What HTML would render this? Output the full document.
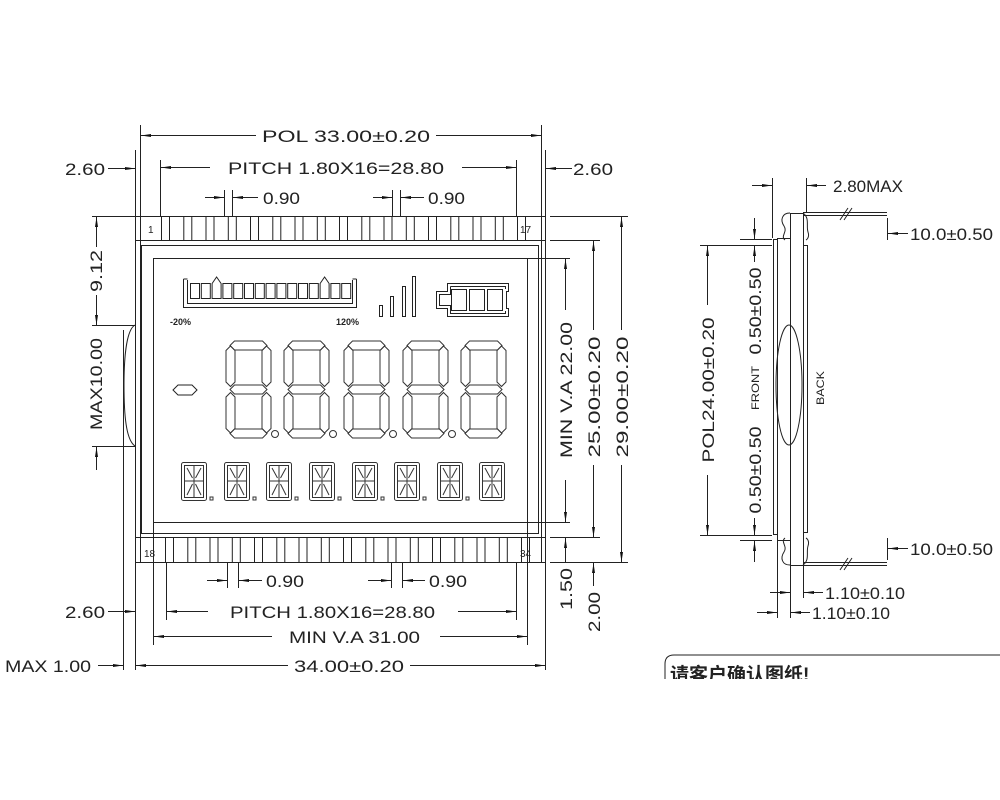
<!DOCTYPE html>
<html><head><meta charset="utf-8"><style>
html,body{margin:0;padding:0;background:#fff;}
svg{display:block}
text{font-family:"Liberation Sans",sans-serif;fill:#222;}
</style></head><body>
<svg id="s" width="1000" height="800" viewBox="0 0 1000 800" xmlns="http://www.w3.org/2000/svg">
<defs>
<marker id="a" viewBox="0 0 10 4" refX="10" refY="2" markerWidth="10" markerHeight="4" markerUnits="userSpaceOnUse" orient="auto-start-reverse"><path d="M0,0.5 L10,2 L0,3.5z" fill="#111"/></marker>
</defs>
<g id="g" fill="none" stroke="#222" stroke-width="1">
<rect x="135.5" y="216.5" width="410" height="346"/>
<line x1="140.5" y1="125" x2="140.5" y2="562"/>
<line x1="541.5" y1="125" x2="541.5" y2="562"/>
<line x1="135" y1="240.5" x2="546" y2="240.5"/>
<line x1="135" y1="537.5" x2="546" y2="537.5"/>
<rect x="141.5" y="245.5" width="397" height="288"/>
<rect x="153.5" y="258.5" width="374" height="264"/>
<line x1="527" y1="258.5" x2="570" y2="258.5"/>
<line x1="527" y1="522.5" x2="570" y2="522.5"/>
<line x1="135.5" y1="150" x2="135.5" y2="216"/>
<line x1="123.5" y1="330" x2="123.5" y2="670"/>
<line x1="135.5" y1="562" x2="135.5" y2="670"/>
<line x1="545.5" y1="150" x2="545.5" y2="216"/>
<line x1="545.5" y1="562" x2="545.5" y2="670"/>
<line x1="92" y1="216.5" x2="135" y2="216.5"/>
<line x1="92" y1="325.5" x2="135" y2="325.5"/>
<line x1="92" y1="446.5" x2="135" y2="446.5"/>
<path d="M135,325 C126,330 124,360 124,385 C124,415 126,440 135,446"/>
<line x1="550" y1="216.5" x2="628" y2="216.5"/>
<line x1="550" y1="240.5" x2="600" y2="240.5"/>
<line x1="550" y1="537.5" x2="600" y2="537.5"/>
<line x1="550" y1="562.5" x2="628" y2="562.5"/>
<line x1="160.5" y1="160" x2="160.5" y2="216"/>
<line x1="516.5" y1="160" x2="516.5" y2="216"/>
<line x1="224.5" y1="190" x2="224.5" y2="216"/>
<line x1="232.5" y1="190" x2="232.5" y2="216"/>
<line x1="392.5" y1="190" x2="392.5" y2="216"/>
<line x1="400.5" y1="190" x2="400.5" y2="216"/>
<line x1="166.5" y1="562" x2="166.5" y2="620"/>
<line x1="516.5" y1="562" x2="516.5" y2="620"/>
<line x1="153.5" y1="522" x2="153.5" y2="645"/>
<line x1="527.5" y1="522" x2="527.5" y2="645"/>
<line x1="227.5" y1="562" x2="227.5" y2="588"/>
<line x1="238.5" y1="562" x2="238.5" y2="588"/>
<line x1="391.5" y1="562" x2="391.5" y2="588"/>
<line x1="402.5" y1="562" x2="402.5" y2="588"/>
</g>
<g fill="none" stroke="#222" stroke-width="1">
<line x1="141" y1="135.5" x2="256" y2="135.5" marker-start="url(#a)"/>
<line x1="436" y1="135.5" x2="541" y2="135.5" marker-end="url(#a)"/>
<line x1="161" y1="167.5" x2="210" y2="167.5" marker-start="url(#a)"/>
<line x1="462" y1="167.5" x2="516" y2="167.5" marker-end="url(#a)"/>
<line x1="205" y1="197.5" x2="224" y2="197.5" marker-end="url(#a)"/>
<line x1="258" y1="197.5" x2="233" y2="197.5" marker-end="url(#a)"/>
<line x1="373" y1="197.5" x2="392" y2="197.5" marker-end="url(#a)"/>
<line x1="424" y1="197.5" x2="401" y2="197.5" marker-end="url(#a)"/>
<line x1="108" y1="168.5" x2="135" y2="168.5" marker-end="url(#a)"/>
<line x1="572" y1="168.5" x2="546" y2="168.5" marker-end="url(#a)"/>
<line x1="96.5" y1="217" x2="96.5" y2="247" marker-start="url(#a)"/>
<line x1="96.5" y1="295" x2="96.5" y2="325" marker-end="url(#a)"/>
<line x1="96.5" y1="470" x2="96.5" y2="447" marker-end="url(#a)"/>
<line x1="565.5" y1="259" x2="565.5" y2="310" marker-start="url(#a)"/>
<line x1="565.5" y1="480" x2="565.5" y2="522" marker-end="url(#a)"/>
<line x1="593.5" y1="241" x2="593.5" y2="330" marker-start="url(#a)"/>
<line x1="593.5" y1="465" x2="593.5" y2="537" marker-end="url(#a)"/>
<line x1="621.5" y1="217" x2="621.5" y2="330" marker-start="url(#a)"/>
<line x1="621.5" y1="465" x2="621.5" y2="562" marker-end="url(#a)"/>
<line x1="565.5" y1="538" x2="565.5" y2="562" marker-start="url(#a)"/>
<line x1="593.5" y1="563" x2="593.5" y2="586" marker-start="url(#a)"/>
<line x1="207" y1="580.5" x2="227" y2="580.5" marker-end="url(#a)"/>
<line x1="262" y1="580.5" x2="239" y2="580.5" marker-end="url(#a)"/>
<line x1="368" y1="580.5" x2="391" y2="580.5" marker-end="url(#a)"/>
<line x1="425" y1="580.5" x2="403" y2="580.5" marker-end="url(#a)"/>
<line x1="167" y1="611.5" x2="208" y2="611.5" marker-start="url(#a)"/>
<line x1="458" y1="611.5" x2="516" y2="611.5" marker-end="url(#a)"/>
<line x1="108" y1="611.5" x2="135" y2="611.5" marker-end="url(#a)"/>
<line x1="154" y1="636.5" x2="272" y2="636.5" marker-start="url(#a)"/>
<line x1="440" y1="636.5" x2="527" y2="636.5" marker-end="url(#a)"/>
<line x1="136" y1="665.5" x2="288" y2="665.5" marker-start="url(#a)"/>
<line x1="410" y1="665.5" x2="545" y2="665.5" marker-end="url(#a)"/>
<line x1="98" y1="665.5" x2="123" y2="665.5" marker-end="url(#a)"/>
</g>
<g font-size="17">
<text x="262" y="142" textLength="168" lengthAdjust="spacingAndGlyphs">POL 33.00±0.20</text>
<text x="228" y="174" textLength="216" lengthAdjust="spacingAndGlyphs">PITCH  1.80X16=28.80</text>
<text x="263" y="204" textLength="37" lengthAdjust="spacingAndGlyphs">0.90</text>
<text x="428" y="204" textLength="37" lengthAdjust="spacingAndGlyphs">0.90</text>
<text x="65" y="175" textLength="40" lengthAdjust="spacingAndGlyphs">2.60</text>
<text x="573" y="175" textLength="40" lengthAdjust="spacingAndGlyphs">2.60</text>
<text x="266" y="587" textLength="38" lengthAdjust="spacingAndGlyphs">0.90</text>
<text x="429" y="587" textLength="38" lengthAdjust="spacingAndGlyphs">0.90</text>
<text x="230" y="618" textLength="205" lengthAdjust="spacingAndGlyphs">PITCH  1.80X16=28.80</text>
<text x="65" y="618" textLength="40" lengthAdjust="spacingAndGlyphs">2.60</text>
<text x="289" y="643" textLength="131" lengthAdjust="spacingAndGlyphs">MIN V.A 31.00</text>
<text x="294" y="672" textLength="110" lengthAdjust="spacingAndGlyphs">34.00±0.20</text>
<text x="5" y="672" textLength="86" lengthAdjust="spacingAndGlyphs">MAX 1.00</text>
<text transform="translate(102,271) rotate(-90)" text-anchor="middle" textLength="42" lengthAdjust="spacingAndGlyphs">9.12</text>
<text transform="translate(102,384) rotate(-90)" text-anchor="middle" textLength="92" lengthAdjust="spacingAndGlyphs">MAX10.00</text>
<text transform="translate(572,390) rotate(-90)" text-anchor="middle" textLength="136" lengthAdjust="spacingAndGlyphs">MIN V.A 22.00</text>
<text transform="translate(600,397) rotate(-90)" text-anchor="middle" textLength="121" lengthAdjust="spacingAndGlyphs">25.00±0.20</text>
<text transform="translate(628,397) rotate(-90)" text-anchor="middle" textLength="121" lengthAdjust="spacingAndGlyphs">29.00±0.20</text>
<text transform="translate(572,589) rotate(-90)" text-anchor="middle" textLength="42" lengthAdjust="spacingAndGlyphs">1.50</text>
<text transform="translate(600,612) rotate(-90)" text-anchor="middle" textLength="40" lengthAdjust="spacingAndGlyphs">2.00</text>
</g>
<g font-size="10">
<text x="148" y="233">1</text>
<text x="520" y="233">17</text>
<text x="144" y="557">18</text>
<text x="520" y="557">34</text>
</g>
<g font-size="9" font-weight="bold">
<text x="170" y="325">-20%</text>
<text x="336" y="325">120%</text>
</g>
<g fill="none" stroke="#222" stroke-width="1">
<path d="M183.5,279 V307.5 H356.5 V279 M187.5,280 V303.5 H352.5 V280 M183.5,279 H187.5 M352.5,279 H356.5"/>
<g id="bars"></g>
<rect x="379.5" y="305.5" width="3" height="11"/>
<rect x="390.5" y="296.5" width="3" height="20"/>
<rect x="402.5" y="286.5" width="3" height="30"/>
<rect x="412.5" y="276.5" width="3" height="40"/>
<path d="M447.5,283.5 H508.5 V291.5 H506.5 V308.5 H508.5 V316.5 H447.5 V308.5 H436.5 V291.5 H447.5Z"/>
<path d="M450.5,286.5 H505.5 V289 M450.5,286.5 V294.5 H439.5 V305.5 H450.5 V313.5 H505.5 V311"/>
<rect x="451.5" y="289.5" width="15" height="21"/>
<rect x="469.5" y="289.5" width="15" height="21"/>
<rect x="487.5" y="289.5" width="15" height="21"/>
<path d="M173,390 L178,385 H192 L197,390 L192,395 H178Z"/>
</g>
<g id="pins" fill="none" stroke="#222" stroke-width="1"></g>
<g id="digs" fill="none" stroke="#333" stroke-width="1"></g>
<g fill="none" stroke="#222" stroke-width="1">
<rect x="773.5" y="239.5" width="4" height="295"/>
<rect x="777.5" y="238.5" width="13" height="302"/>
<rect x="790.5" y="213.5" width="13" height="352"/>
<rect x="803.5" y="245.5" width="4" height="287"/>
<ellipse cx="789" cy="385" rx="13" ry="60"/>
<path d="M790,213 C782,213 780,220 784,226 C788,232 780,236 785,240"/>
<path d="M803,213 C810,218 806,226 808,232 C810,238 806,240 806,240"/>
<path d="M790,565 C782,565 780,558 784,552 C788,546 780,542 785,538"/>
<path d="M803,565 C810,560 806,552 808,546 C810,540 806,538 806,538"/>
<line x1="803" y1="212.5" x2="887" y2="212.5"/><line x1="803" y1="215.5" x2="887" y2="215.5"/>
<line x1="803" y1="562.5" x2="887" y2="562.5"/><line x1="803" y1="565.5" x2="887" y2="565.5"/>
<path d="M840,220 L848,208 M844,220 L852,208 M840,570 L848,558 M844,570 L852,558"/>
<line x1="887.5" y1="218" x2="887.5" y2="240"/>
<line x1="887.5" y1="538" x2="887.5" y2="560"/>
<line x1="772.5" y1="178" x2="772.5" y2="238"/>
<line x1="806.5" y1="178" x2="806.5" y2="213"/>
<line x1="700" y1="245.5" x2="772" y2="245.5"/>
<line x1="700" y1="535.5" x2="772" y2="535.5"/>
<line x1="740" y1="239.5" x2="772" y2="239.5"/>
<line x1="740" y1="540.5" x2="772" y2="540.5"/>
<line x1="777.5" y1="540" x2="777.5" y2="618"/>
<line x1="790.5" y1="565" x2="790.5" y2="618"/>
<line x1="803.5" y1="565" x2="803.5" y2="598"/>
</g>
<g fill="none" stroke="#222" stroke-width="1">
<line x1="752" y1="185.5" x2="772" y2="185.5" marker-end="url(#a)"/>
<line x1="826" y1="185.5" x2="807" y2="185.5" marker-end="url(#a)"/>
<line x1="908" y1="233.5" x2="888" y2="233.5" marker-end="url(#a)"/>
<line x1="908" y1="548.5" x2="888" y2="548.5" marker-end="url(#a)"/>
<line x1="707.5" y1="246" x2="707.5" y2="305" marker-start="url(#a)"/>
<line x1="707.5" y1="475" x2="707.5" y2="535" marker-end="url(#a)"/>
<line x1="754.5" y1="218" x2="754.5" y2="239" marker-end="url(#a)"/>
<line x1="754.5" y1="246" x2="754.5" y2="262" marker-start="url(#a)"/>
<line x1="754.5" y1="518" x2="754.5" y2="535" marker-end="url(#a)"/>
<line x1="754.5" y1="562" x2="754.5" y2="541" marker-end="url(#a)"/>
<line x1="770" y1="592.5" x2="790" y2="592.5" marker-end="url(#a)"/>
<line x1="823" y1="592.5" x2="804" y2="592.5" marker-end="url(#a)"/>
<line x1="757" y1="612.5" x2="777" y2="612.5" marker-end="url(#a)"/>
<line x1="810" y1="612.5" x2="791" y2="612.5" marker-end="url(#a)"/>
<path d="M665,679 V664 Q665,655 674,655 H1000"/>
</g>
<g font-size="17">
<text x="833" y="192" textLength="70" lengthAdjust="spacingAndGlyphs">2.80MAX</text>
<text x="910" y="240" textLength="83" lengthAdjust="spacingAndGlyphs">10.0±0.50</text>
<text x="910" y="555" textLength="83" lengthAdjust="spacingAndGlyphs">10.0±0.50</text>
<text x="825" y="599" textLength="80" lengthAdjust="spacingAndGlyphs">1.10±0.10</text>
<text x="812" y="619" textLength="78" lengthAdjust="spacingAndGlyphs">1.10±0.10</text>
<text transform="translate(714,390) rotate(-90)" text-anchor="middle" textLength="145" lengthAdjust="spacingAndGlyphs">POL24.00±0.20</text>
<text transform="translate(761,311) rotate(-90)" text-anchor="middle" textLength="87" lengthAdjust="spacingAndGlyphs">0.50±0.50</text>
<text transform="translate(761,470) rotate(-90)" text-anchor="middle" textLength="87" lengthAdjust="spacingAndGlyphs">0.50±0.50</text>
</g>
<g font-size="11">
<text transform="translate(759,388) rotate(-90)" text-anchor="middle" textLength="44" lengthAdjust="spacingAndGlyphs">FRONT</text>
<text transform="translate(824,388) rotate(-90)" text-anchor="middle" textLength="34" lengthAdjust="spacingAndGlyphs">BACK</text>
</g>
<svg x="660" y="655" width="340" height="24" overflow="hidden">
<text x="10" y="26" font-size="19" font-weight="bold" style="font-family:'Liberation Sans','Noto Sans CJK SC',sans-serif">请客户确认图纸!</text>
</svg>
</svg>
<script>
var NS="http://www.w3.org/2000/svg";
function el(p,t,a){var e=document.createElementNS(NS,t);for(var k in a)e.setAttribute(k,a[k]);p.appendChild(e);return e;}
var pins=document.getElementById("pins");
for(var i=0;i<17;i++){var x=161.5+i*22.25;
el(pins,"rect",{x:x.toFixed(1),y:216.5,width:8,height:24});
el(pins,"rect",{x:(x+4).toFixed(1),y:537.5,width:8,height:25});}
var bars=document.getElementById("bars");
for(var i=0;i<15;i++){var x=190.5+i*10.8;
if(i==2||i==12){el(bars,"path",{d:"M"+x+",298.5 V283.5 L"+(x+4.5)+",277 L"+(x+9)+",283.5 V298.5Z"});}
else el(bars,"rect",{x:x,y:283.5,width:9,height:15});}
var d=document.getElementById("digs");
var big=[226,284,344,403,461];
big.forEach(function(x0,k){var y0=341,w=45,h=97,t=9,m=y0+h/2;
function H(y){el(d,"path",{d:"M"+(x0+4)+","+y+" l"+t/2+","+(-t/2)+" h"+(w-8-t)+" l"+t/2+","+(t/2)+" l"+(-t/2)+","+(t/2)+" h"+(-(w-8-t))+"z"});}
function V(x,y1,y2){el(d,"path",{d:"M"+x+","+(y1+3)+" l"+t/2+","+t/2+" V"+(y2-3-t/2)+" l"+(-t/2)+","+(t/2)+" l"+(-t/2)+","+(-t/2)+" V"+(y1+3+t/2)+"z"});}
H(y0+t/2);H(m);H(y0+h-t/2);
V(x0+t/2,y0+2,m);V(x0+w-t/2,y0+2,m);V(x0+t/2,m,y0+h-2);V(x0+w-t/2,m,y0+h-2);
if(k<4)el(d,"circle",{cx:x0+w+4,cy:y0+h-4,r:3.5});});
var sm=[181,224,266,309,352,394,437,479];
sm.forEach(function(x0,k){var y0=462,w=25,h=38,m=y0+h/2;
el(d,"rect",{x:x0+.5,y:y0+.5,width:w,height:h,rx:2});
el(d,"rect",{x:x0+3.5,y:y0+3.5,width:w-6,height:h-6});
el(d,"path",{d:"M"+(x0+3)+","+m+" H"+(x0+w-2)+" M"+(x0+w/2+.5)+","+(y0+3)+" V"+(y0+h-2)+" M"+(x0+6)+","+(y0+6)+" L"+(x0+w/2-1)+","+(m-3)+" M"+(x0+w-5)+","+(y0+6)+" L"+(x0+w/2+2)+","+(m-3)+" M"+(x0+6)+","+(y0+h-5)+" L"+(x0+w/2-1)+","+(m+3)+" M"+(x0+w-5)+","+(y0+h-5)+" L"+(x0+w/2+2)+","+(m+3)});
if(k<7)el(d,"rect",{x:x0+w+4,y:y0+h-3,width:3,height:3});});
</script>
</body></html>
